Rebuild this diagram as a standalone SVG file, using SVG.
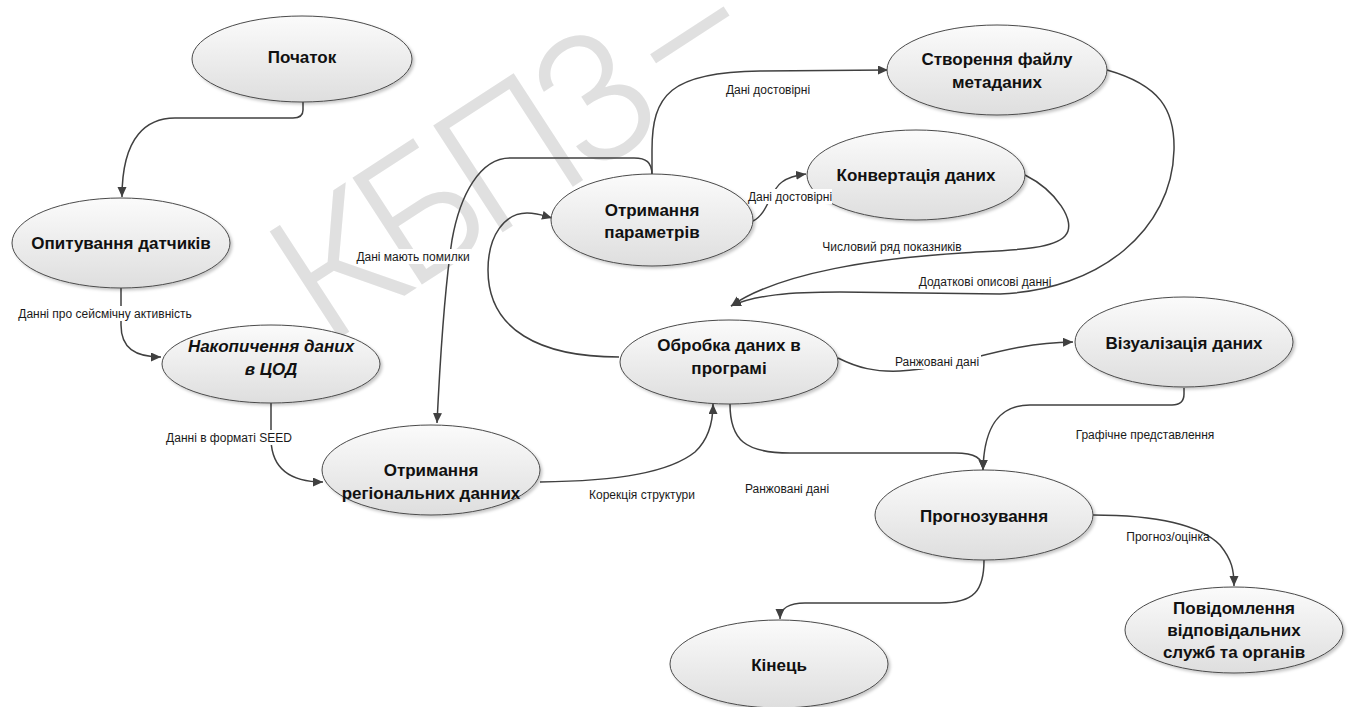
<svg xmlns="http://www.w3.org/2000/svg" width="1351" height="707" viewBox="0 0 1351 707">
  <style>
    .node ellipse { fill: url(#nodeFill); stroke: #4a4a4a; stroke-width: 1; filter: url(#shade); }
    .node text { font-family: "Liberation Sans", Arial, sans-serif; font-weight: bold; font-size: 17px; fill: #111; text-anchor: middle; }
    .node text.it { font-style: italic; }
    .edge { fill: none; stroke: #404040; stroke-width: 1.5; marker-end: url(#arrow); }
    .lbl rect { fill: #fff; }
    .lbl text { font-family: "Liberation Sans", Arial, sans-serif; font-size: 12px; fill: #1a1a1a; text-anchor: middle; }
    .wm { font-family: Inter, "Liberation Sans", sans-serif; font-weight: 300; font-size: 175px; fill: #e0e0e0; text-anchor: middle; }
  </style>
  <defs>
    <linearGradient id="nodeFill" x1="0" y1="0" x2="0" y2="1">
      <stop offset="0" stop-color="#fbfbfb"/>
      <stop offset="1" stop-color="#dedede"/>
    </linearGradient>
    <filter id="shade" x="-10%" y="-10%" width="125%" height="130%">
      <feDropShadow dx="2" dy="2" stdDeviation="1.5" flood-color="#000" flood-opacity="0.22"/>
    </filter>
    <marker id="arrow" markerUnits="userSpaceOnUse" markerWidth="11" markerHeight="10" refX="10" refY="4.5" orient="auto">
      <path d="M0,0 L10,4.5 L0,9 z" fill="#404040"/>
    </marker>
  </defs>

  <rect width="1351" height="707" fill="#fff"/>

  <!-- watermark -->
  <text class="wm" transform="translate(543,206) rotate(-33)" textLength="520" lengthAdjust="spacing">КБПЗ –</text>

  <!-- connectors -->
  <g id="connectors">
    <path class="edge" d="M303,102 V110 Q303,118 293,118 H175 C148,118 122,135 122,197"/>
    <path class="edge" d="M121,288 V325 C121,348 135,357 161,357"/>
    <path class="edge" d="M271,402 V440 C272,468 290,482 323,482"/>
    <path class="edge" d="M652,175 C652,162 646,158 634,158 L510,158 C480,158 460,195 452,240 C446,280 441,340 437,423"/>
    <path class="edge" d="M652,175 V150 C652,95 670,72 760,71 L888,70"/>
    <path class="edge" d="M753,221 C768,214 770,190 782,182 Q790,176 806,174"/>
    <path class="edge" d="M1025,175 C1055,190 1078,222 1065,236 C1052,250 1010,250 962,253 C880,258 780,272 731,306"/>
    <path class="edge" d="M1107,70 C1160,85 1175,110 1174,150 C1172,230 1100,290 1000,294 L840,292 C790,292 755,295 731,306"/>
    <path class="edge" d="M619,357 C540,357 488,330 488,270 C488,235 505,213 527,213 C538,213 545,216 552,218"/>
    <path class="edge" d="M540,482 C620,481 670,472 695,452 C710,438 713,420 713,404"/>
    <path class="edge" d="M838,358 C858,368 875,372 900,371 C960,368 1000,343 1073,342"/>
    <path class="edge" d="M730,404 C730,440 745,453 790,453 L955,453 C975,453 983,458 983,470"/>
    <path class="edge" d="M1184,388 V394 Q1184,405 1172,405 L1030,405 C1000,405 984,425 983,470"/>
    <path class="edge" d="M1093,515 C1160,515 1200,525 1220,545 C1232,560 1234,570 1234,586"/>
    <path class="edge" d="M984,560 C984,590 975,603 940,603 L805,603 C790,603 780,608 780,619"/>
  </g>

  <!-- nodes -->
  <g id="start" class="node">
    <ellipse cx="302" cy="59" rx="110" ry="43"/>
    <text x="302" y="63">Початок</text>
  </g>
  <g id="poll-sensors" class="node">
    <ellipse cx="121" cy="243" rx="109" ry="45"/>
    <text x="121" y="249">Опитування датчиків</text>
  </g>
  <g id="accumulate" class="node">
    <ellipse cx="271" cy="364" rx="109" ry="39"/>
    <text class="it" x="271" y="352">Накопичення даних</text>
    <text class="it" x="271" y="375">в ЦОД</text>
  </g>
  <g id="regional-data" class="node">
    <ellipse cx="431" cy="470" rx="109" ry="45"/>
    <text x="431" y="476">Отримання</text>
    <text x="431" y="499">регіональних данних</text>
  </g>
  <g id="parameters" class="node">
    <ellipse cx="652" cy="220" rx="101" ry="46"/>
    <text x="652" y="216">Отримання</text>
    <text x="652" y="238">параметрів</text>
  </g>
  <g id="convert" class="node">
    <ellipse cx="916" cy="175" rx="109" ry="45"/>
    <text x="916" y="181">Конвертація даних</text>
  </g>
  <g id="metadata" class="node">
    <ellipse cx="997" cy="70" rx="110" ry="45"/>
    <text x="997" y="65">Створення файлу</text>
    <text x="997" y="88">метаданих</text>
  </g>
  <g id="processing" class="node">
    <ellipse cx="729" cy="362" rx="109" ry="42"/>
    <text x="729" y="351">Обробка даних в</text>
    <text x="729" y="374">програмі</text>
  </g>
  <g id="visualize" class="node">
    <ellipse cx="1184" cy="342" rx="109" ry="45"/>
    <text x="1184" y="349">Візуалізація даних</text>
  </g>
  <g id="forecast" class="node">
    <ellipse cx="984" cy="515" rx="109" ry="45"/>
    <text x="984" y="522">Прогнозування</text>
  </g>
  <g id="end" class="node">
    <ellipse cx="779" cy="664" rx="109" ry="44"/>
    <text x="779" y="671">Кінець</text>
  </g>
  <g id="notify" class="node">
    <ellipse cx="1234" cy="630" rx="109" ry="43"/>
    <text x="1234" y="614">Повідомлення</text>
    <text x="1234" y="636">відповідальних</text>
    <text x="1234" y="658">служб та органів</text>
  </g>

  <!-- connector labels -->
  <g id="labels">
    <g class="lbl"><rect x="17" y="306" width="177" height="15"/><text x="105" y="318">Данні про сейсмічну активність</text></g>
    <g class="lbl"><rect x="170" y="430" width="119" height="15"/><text x="229" y="442">Данні в форматі SEED</text></g>
    <g class="lbl"><rect x="355" y="249" width="116" height="15"/><text x="413" y="261">Дані мають помилки</text></g>
    <g class="lbl"><text x="768" y="94">Дані достовірні</text></g>
    <g class="lbl"><rect x="748" y="189" width="84" height="15"/><text x="790" y="201">Дані достовірні</text></g>
    <g class="lbl"><text x="892" y="251">Числовий ряд показників</text></g>
    <g class="lbl"><text x="985" y="286">Додаткові описові данні</text></g>
    <g class="lbl"><text x="642" y="499">Корекція структури</text></g>
    <g class="lbl"><rect x="895" y="354" width="86" height="15"/><text x="937" y="366">Ранжовані дані</text></g>
    <g class="lbl"><text x="787" y="493">Ранжовані дані</text></g>
    <g class="lbl"><text x="1145" y="439">Графічне представлення</text></g>
    <g class="lbl"><text x="1168" y="541">Прогноз/оцінка</text></g>
  </g>
</svg>
